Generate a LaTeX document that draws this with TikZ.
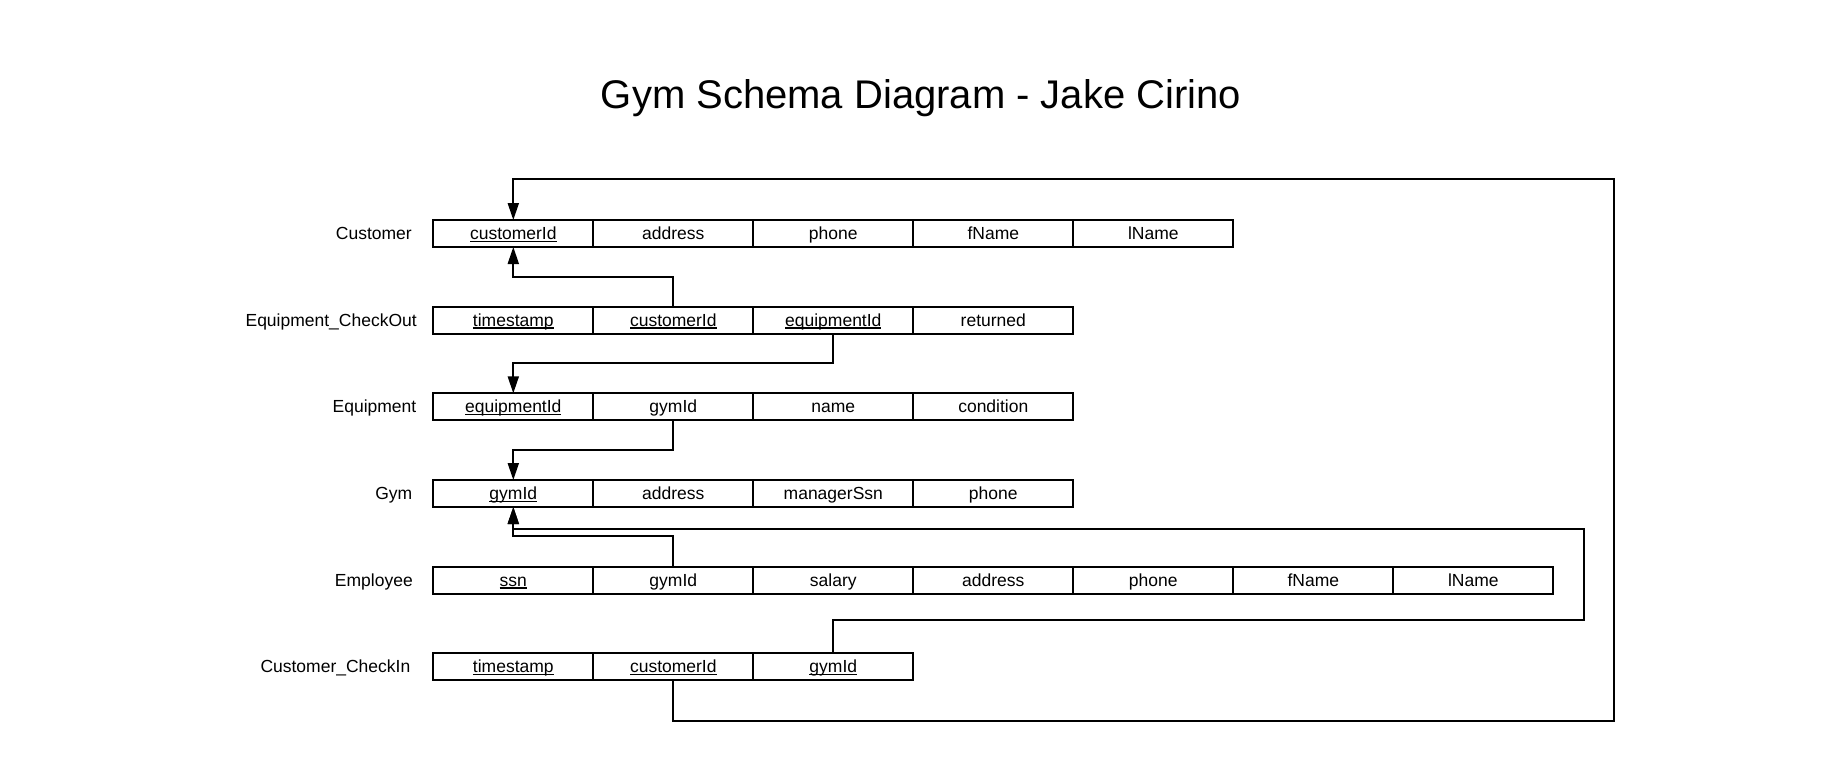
\documentclass[tikz,border=0pt]{standalone}
\usepackage{fontspec}
\setmainfont{Liberation Sans}
\usetikzlibrary{arrows.meta}
\newcommand\fkul[1]{\setbox0\hbox{#1}\rlap{\vrule width\wd0 height -1pt depth 2.4pt}\box0}
\begin{document}
\begin{tikzpicture}[x=1pt,y=-1pt,
  cell/.style={draw,line width=2pt,minimum width=160pt,minimum height=27pt,
    inner sep=0pt,outer sep=0pt,text height=14.5pt,text depth=2.5pt,
    font=\fontsize{17.5}{20}\selectfont},
  rowlabel/.style={anchor=base east,inner sep=0pt,font=\fontsize{17.5}{20}\selectfont},
  fk/.style={line width=2pt,-{Triangle[length=17pt,width=11pt]}},
  titlestyle/.style={anchor=base,inner sep=0pt,font=\fontsize{40}{48}\selectfont}]
\useasboundingbox (0,0) rectangle (1840,761);
\fill[white] (0,0) rectangle (1840,761);

\node[titlestyle] (title) at (921,108) {Gym Schema Diagram - Jake Cirino};

% Customer
\node[rowlabel] (lcu) at (412,239.5) {Customer};
\node[cell] (cu1) at (513.3,233.5) {\fkul{customerId}};
\node[cell] (cu2) at (673.3,233.5) {address};
\node[cell] (cu3) at (833.3,233.5) {phone};
\node[cell] (cu4) at (993.3,233.5) {fName};
\node[cell] (cu5) at (1153.3,233.5) {lName};

% Equipment_CheckOut
\node[rowlabel] (leco) at (417,326.2) {Equipment\_CheckOut};
\node[cell] (eco1) at (513.3,320.2) {\fkul{timestamp}};
\node[cell] (eco2) at (673.3,320.2) {\fkul{customerId}};
\node[cell] (eco3) at (833.3,320.2) {\fkul{equipmentId}};
\node[cell] (eco4) at (993.3,320.2) {returned};

% Equipment
\node[rowlabel] (leq) at (416.5,412.8) {Equipment};
\node[cell] (eq1) at (513.3,406.8) {\fkul{equipmentId}};
\node[cell] (eq2) at (673.3,406.8) {gymId};
\node[cell] (eq3) at (833.3,406.8) {name};
\node[cell] (eq4) at (993.3,406.8) {condition};

% Gym
\node[rowlabel] (lgy) at (412.5,499.5) {Gym};
\node[cell] (gy1) at (513.3,493.5) {\fkul{gymId}};
\node[cell] (gy2) at (673.3,493.5) {address};
\node[cell] (gy3) at (833.3,493.5) {managerSsn};
\node[cell] (gy4) at (993.3,493.5) {phone};

% Employee
\node[rowlabel] (lem) at (413,586.2) {Employee};
\node[cell] (em1) at (513.3,580.2) {\fkul{ssn}};
\node[cell] (em2) at (673.3,580.2) {gymId};
\node[cell] (em3) at (833.3,580.2) {salary};
\node[cell] (em4) at (993.3,580.2) {address};
\node[cell] (em5) at (1153.3,580.2) {phone};
\node[cell] (em6) at (1313.3,580.2) {fName};
\node[cell] (em7) at (1473.3,580.2) {lName};

% Customer_CheckIn
\node[rowlabel] (lci) at (410.5,672.8) {Customer\_CheckIn};
\node[cell] (ci1) at (513.3,666.8) {\fkul{timestamp}};
\node[cell] (ci2) at (673.3,666.8) {\fkul{customerId}};
\node[cell] (ci3) at (833.3,666.8) {\fkul{gymId}};

% connectors
\coordinate (rtop) at (1614,179);
\coordinate (rmid) at (1584,529);
\draw[fk] (ci2.south) -- ++(0,40.7) -| (rtop) -| (cu1.north);
\draw[fk] (eco2.north) -- ++(0,-30) -| (cu1.south);
\draw[fk] (eco3.south) -- ++(0,29) -| (eq1.north);
\draw[fk] (eq2.south) -- ++(0,29.4) -| (gy1.north);
\draw[fk] (em2.north) -- ++(0,-31) -| (gy1.south);
\draw[fk] (ci3.north) -- ++(0,-33.3) -| (rmid) -| (gy1.south);
\end{tikzpicture}
\end{document}
